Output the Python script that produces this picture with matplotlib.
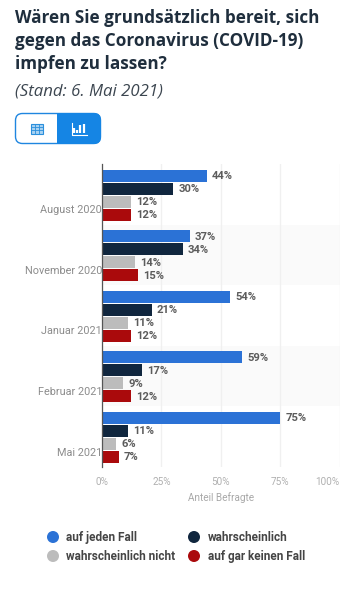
"""Grouped horizontal bars: willingness to get a COVID-19 vaccination."""

import matplotlib
matplotlib.use("Agg")
import matplotlib.pyplot as plt
import numpy as np
from matplotlib.patches import Circle, FancyBboxPatch, Rectangle
from matplotlib.transforms import ScaledTranslation

OUTPUT_PATH = "out.png"

months = ["August 2020", "November 2020", "Januar 2021", "Februar 2021", "Mai 2021"]
series_names = ["auf jeden Fall", "wahrscheinlich", "wahrscheinlich nicht", "auf gar keinen Fall"]
auf_jeden_fall = [44, 37, 54, 59, 75]
wahrscheinlich = [30, 34, 21, 17, 11]
wahrscheinlich_nicht = [12, 14, 11, 9, 6]
gar_nicht = [12, 15, 12, 12, 7]
x_ticks = [0, 25, 50, 75, 100]

COLORS = ["#2b72d6", "#10263e", "#bcbcbc", "#aa0a0c"]
W, H = 359, 600

plt.rcParams["font.family"] = ["Roboto", "DejaVu Sans"]


def main():
    fig = plt.figure(figsize=(W / 100, H / 100), dpi=100)

    # overlay in pixel coordinates for the page furniture
    page = fig.add_axes([0, 0, 1, 1])
    page.set_xlim(0, W)
    page.set_ylim(H, 0)
    page.axis("off")

    title = ["Wären Sie grundsätzlich bereit, sich",
             "gegen das Coronavirus (COVID-19)",
             "impfen zu lassen?"]
    for line, y in zip(title, [18, 41, 64]):
        page.text(15, y, line, family="Open Sans", fontsize=12.3, fontweight="bold",
                  color="#1f2e3d", va="center")
    page.text(15, 92, "(Stand: 6. Mai 2021)", family="Open Sans", fontsize=12.1,
              style="italic", color="#3c4650", va="center")

    # chart/table toggle
    page.add_patch(FancyBboxPatch((15.5, 113.5), 85, 30, boxstyle="round,pad=0,rounding_size=7",
                                  fc="white", ec="#1f86e0", lw=1))
    page.add_patch(FancyBboxPatch((57, 113), 44, 31, boxstyle="round,pad=0,rounding_size=7",
                                  fc="#1585e4", ec="none"))
    page.add_patch(Rectangle((57, 113), 8, 31, fc="#1585e4", ec="none"))
    page.add_patch(Rectangle((30.5, 124), 12, 9.5, fc="#a8d2f2", ec="#2a8fdc", lw=0.8))
    for x in [34.5, 38.5]:
        page.plot([x, x], [124, 133.5], color="#2a8fdc", lw=0.6)
    for y in [127, 130]:
        page.plot([30.5, 42.5], [y, y], color="#2a8fdc", lw=0.6)
    page.plot([71.5, 71.5, 86.5], [123, 134.5, 134.5], color="white", lw=0.8)
    for x, top in zip([74, 77, 80, 83.5], [128, 130, 125, 124]):
        page.plot([x, x], [133, top], color="white", lw=1.6, solid_capstyle="butt")

    # bar chart
    ax = fig.add_axes([102 / W, 1 - 467 / H, 237.5 / W, 303 / H])
    ax.patch.set_alpha(0)
    ax.set_xlim(0, 100)
    ax.set_ylim(len(months) - 0.5, -0.5)
    ax.set_axisbelow(True)

    for i in [1, 3]:
        ax.axhspan(i - 0.5, i + 0.5, color="#fafafa", lw=0, zorder=0)
    ax.grid(axis="x", color="#f0f0f0", lw=1, zorder=1)

    values = [auf_jeden_fall, wahrscheinlich, wahrscheinlich_nicht, gar_nicht]
    y_base = np.arange(len(months))
    pitch = 0.2145
    for k, (vals, color) in enumerate(zip(values, COLORS)):
        bars = ax.barh(y_base + (k - 1.5) * pitch + 0.012, vals, height=0.198, color=color, zorder=3)
        for bar, v in zip(bars, vals):
            ax.annotate(f"{v}%", (v, bar.get_y() + bar.get_height() / 2), xytext=(3.7, -0.3),
                        textcoords="offset points", va="center", ha="left",
                        fontsize=8.1, fontweight="bold", color="#5c5c5c")

    for side in ["top", "right", "bottom"]:
        ax.spines[side].set_visible(False)
    ax.spines["left"].set_color("#555555")
    ax.spines["left"].set_linewidth(0.9)
    ax.spines["left"].set_zorder(5)

    ax.set_yticks(y_base, months)
    ax.tick_params(axis="y", length=0, pad=0, labelsize=7.8, labelcolor="#8c8c8c")
    shift = ScaledTranslation(0, -15 / 100, fig.dpi_scale_trans)
    for label in ax.get_yticklabels():
        label.set_transform(label.get_transform() + shift)

    ax.set_xticks(x_ticks, [f"{t}%" for t in x_ticks])
    ax.tick_params(axis="x", length=0, pad=7, labelsize=7.2, labelcolor="#b0b0b0")
    ax.get_xticklabels()[-1].set_ha("right")
    page.text(221, 498, "Anteil Befragte", fontsize=7.2, color="#a8a8a8", ha="center", va="center")

    # legend
    legend_pos = [(53, 537), (194, 537), (53, 556), (194, 556)]
    for (x, y), name, color in zip(legend_pos, series_names, COLORS):
        page.add_patch(Circle((x, y), 6, fc=color, ec="none"))
        page.text(x + 13.5, y + 0.5, name, fontsize=8.45, fontweight="bold", color="#454545", va="center")

    fig.savefig(OUTPUT_PATH, dpi=100)
    plt.close(fig)


if __name__ == "__main__":
    main()
